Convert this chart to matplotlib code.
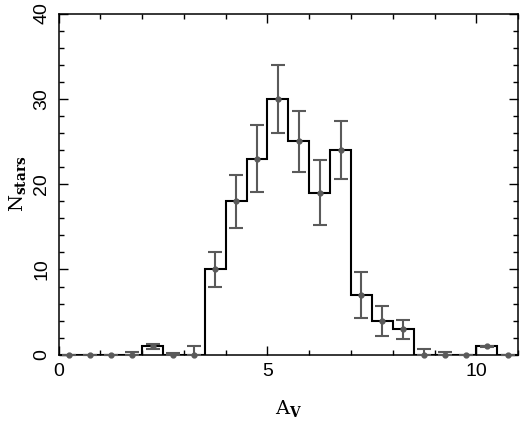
import numpy as np
import matplotlib
matplotlib.use("Agg")
import matplotlib.pyplot as plt
from matplotlib.ticker import MultipleLocator

# histogram of A_V, bins of 0.5 mag
bin_edges = [0.0, 0.5, 1.0, 1.5, 2.0, 2.5, 3.0, 3.5, 4.0, 4.5, 5.0, 5.5,
             6.0, 6.5, 7.0, 7.5, 8.0, 8.5, 9.0, 9.5, 10.0, 10.5, 11.0]
counts = [0, 0, 0, 0, 1, 0, 0, 10, 18, 23, 30, 25,
          19, 24, 7, 4, 3, 0, 0, 0, 1, 0]
errors = [0, 0, 0, 0.28, 0.3, 0.2, 1.0, 2.1, 3.1, 3.9, 4.0, 3.6,
          3.8, 3.4, 2.65, 1.75, 1.1, 0.67, 0.28, 0, 0.08, 0]

plt.rcParams['mathtext.fontset'] = 'dejavuserif'
plt.rcParams['font.family'] = ['Liberation Sans', 'DejaVu Sans']

fig = plt.figure(figsize=(5.2, 4.29), dpi=100)
ax = fig.add_axes([0.1125, 0.173, 0.884, 0.7955])

edges = np.array(bin_edges)
n = np.array(counts, dtype=float)
e = np.array(errors)
centers = 0.5 * (edges[:-1] + edges[1:])

ax.stairs(n, edges, color='black', lw=1.5, baseline=0)

lower = np.minimum(e, n)
ax.errorbar(centers, n, yerr=[lower, e], fmt='o', ms=3.5, color='#5a5a5a',
            ecolor='#5a5a5a', elinewidth=1.5, capsize=5, capthick=1.5,
            clip_on=False, zorder=3)

ax.set_xlim(0, 11)
ax.set_ylim(0, 40)
ax.xaxis.set_major_locator(MultipleLocator(5))
ax.xaxis.set_minor_locator(MultipleLocator(1))
ax.yaxis.set_major_locator(MultipleLocator(10))
ax.yaxis.set_minor_locator(MultipleLocator(2))
ax.tick_params(which='both', direction='in', top=True, right=True, width=1.0)
ax.tick_params(which='major', length=6.5, labelsize=14, pad=6)
ax.tick_params(which='minor', length=3.3)
for lab in ax.get_yticklabels():
    lab.set_rotation(90)
    lab.set_va('center')
for sp in ax.spines.values():
    sp.set_linewidth(1.1)

ax.set_xlabel(r'$\mathrm{A}_{\mathbf{V}}$', fontsize=14, labelpad=13)
ax.set_ylabel(r'$\mathrm{N}_{\mathbf{stars}}$', fontsize=14, labelpad=4)

fig.savefig('out.png', dpi=100)
